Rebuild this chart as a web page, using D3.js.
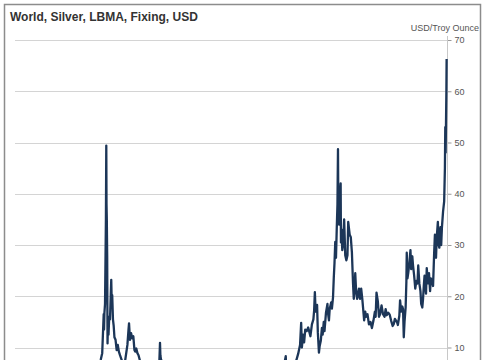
<!DOCTYPE html>
<html>
<head>
<meta charset="utf-8">
<script src="https://cdn.jsdelivr.net/npm/d3@7"></script>
<style>
  body { margin: 0; background: #fff; overflow: hidden; }
  svg { display: block; font-family: "Liberation Sans", Arial, sans-serif; }
</style>
</head>
<body>
<script>
var width = 485;
var height = 360;

var chartTitle = 'World, Silver, LBMA, Fixing, USD';
var unitLabel = 'USD/Troy Ounce';
var yTicks = [10, 20, 30, 40, 50, 60, 70];

// [decimal year, USD per troy ounce]
var fixings = [
  [1968.0, 2.17], [1968.4, 2.56], [1968.9, 1.95], [1969.5, 1.65], [1970.0, 1.85],
  [1970.6, 1.75], [1971.0, 1.64], [1971.8, 1.32], [1972.5, 1.7], [1973.0, 2.0],
  [1973.5, 2.8], [1974.1, 6.0], [1974.2, 4.5], [1974.5, 4.8], [1975.0, 4.2],
  [1975.6, 4.9], [1976.0, 4.1], [1976.6, 4.6], [1977.0, 4.5], [1977.6, 4.6],
  [1978.0, 4.9], [1978.6, 5.5], [1979.0, 6.0], [1979.3, 7.6], [1979.5, 8.9],
  [1979.7, 16.5], [1979.75, 13.5], [1979.8, 16.8], [1979.88, 18.5], [1979.95, 28],
  [1980.0, 35], [1980.05, 49.4], [1980.08, 38], [1980.12, 35], [1980.17, 28],
  [1980.22, 10.8], [1980.27, 14.5], [1980.35, 12.5], [1980.45, 16], [1980.55, 15.5],
  [1980.65, 20], [1980.72, 23.2], [1980.78, 19], [1980.85, 20.2], [1980.95, 15.5],
  [1981.05, 14.2], [1981.15, 12], [1981.3, 11.5], [1981.45, 9.5], [1981.6, 10.5],
  [1981.75, 9.2], [1981.9, 8.5], [1982.1, 7.7], [1982.3, 6.8], [1982.45, 5.3],
  [1982.6, 7.5], [1982.75, 9.0], [1982.9, 10.5], [1983.05, 13.5], [1983.12, 14.7],
  [1983.25, 11.5], [1983.4, 12.8], [1983.55, 11.8], [1983.7, 12.2], [1983.85, 9.5],
  [1983.95, 9.2], [1984.1, 9.8], [1984.25, 8.9], [1984.4, 8.5], [1984.6, 7.4],
  [1984.8, 7.2], [1985.0, 6.2], [1985.3, 6.3], [1985.6, 6.2], [1985.9, 6.0],
  [1986.2, 5.6], [1986.5, 5.0], [1986.8, 5.7], [1987.0, 5.5], [1987.2, 6.8],
  [1987.3, 10.9], [1987.35, 8.5], [1987.45, 7.5], [1987.6, 7.4], [1987.85, 6.8],
  [1988.1, 6.5], [1988.4, 6.4], [1988.8, 6.2], [1989.0, 5.8], [1989.5, 5.2],
  [1990.0, 5.2], [1990.5, 4.9], [1991.0, 4.0], [1991.5, 4.3], [1992.0, 4.0],
  [1992.5, 3.9], [1993.0, 3.7], [1993.3, 4.2], [1993.6, 5.0], [1994.0, 5.3],
  [1994.5, 5.4], [1995.0, 4.7], [1995.4, 5.8], [1996.0, 5.5], [1996.6, 5.0],
  [1997.0, 4.8], [1997.6, 4.5], [1998.05, 6.8], [1998.3, 6.0], [1998.7, 5.2],
  [1999.0, 5.0], [1999.8, 5.3], [2000.5, 5.0], [2001.0, 4.5], [2001.8, 4.2],
  [2002.4, 5.0], [2003.0, 4.5], [2003.6, 5.0], [2004.0, 6.2], [2004.27, 8.3],
  [2004.35, 5.6], [2004.6, 6.6], [2004.9, 7.3], [2005.3, 7.0], [2005.7, 7.5],
  [2005.95, 8.8], [2006.2, 10.5], [2006.35, 14.8], [2006.45, 10.0], [2006.6, 12.5],
  [2006.75, 11.0], [2006.9, 13.5], [2007.1, 13.2], [2007.3, 13.9], [2007.6, 12.2],
  [2007.8, 14.5], [2008.0, 15.5], [2008.1, 17.2], [2008.2, 20.8], [2008.3, 17],
  [2008.4, 17.8], [2008.5, 18.3], [2008.6, 13], [2008.75, 9.0], [2008.85, 10.3],
  [2009.0, 11.3], [2009.15, 13.8], [2009.25, 12.5], [2009.4, 15], [2009.5, 13.2],
  [2009.7, 16.8], [2009.9, 18.5], [2009.95, 17], [2010.1, 15.3], [2010.2, 17.5],
  [2010.4, 18.8], [2010.5, 17.6], [2010.65, 19.8], [2010.75, 23.5], [2010.85, 26.5],
  [2010.95, 30.6], [2011.05, 27.5], [2011.15, 33], [2011.25, 38], [2011.32, 48.7],
  [2011.37, 37], [2011.45, 34], [2011.5, 38], [2011.6, 40], [2011.68, 42],
  [2011.72, 30.5], [2011.8, 33], [2011.9, 29], [2012.0, 30], [2012.15, 35],
  [2012.3, 28], [2012.45, 27], [2012.6, 28], [2012.7, 34.5], [2012.9, 32],
  [2013.05, 31.5], [2013.2, 28.5], [2013.35, 22.5], [2013.45, 19.5], [2013.55, 21],
  [2013.65, 24.5], [2013.75, 21.5], [2013.9, 19.5], [2014.0, 20], [2014.15, 21.5],
  [2014.3, 19.5], [2014.45, 21.5], [2014.6, 19.5], [2014.75, 17], [2014.85, 15.3],
  [2015.0, 17], [2015.1, 16], [2015.3, 16.5], [2015.5, 14.5], [2015.7, 15],
  [2015.9, 13.8], [2016.1, 15.2], [2016.3, 17], [2016.4, 16], [2016.52, 20.7],
  [2016.7, 19], [2016.85, 16], [2017.0, 16.5], [2017.2, 18.2], [2017.4, 16.5],
  [2017.6, 16], [2017.75, 17.5], [2017.9, 16.3], [2018.1, 16.8], [2018.3, 16.4],
  [2018.5, 15.2], [2018.7, 14.2], [2018.85, 14.6], [2019.0, 15.6], [2019.3, 14.9],
  [2019.4, 14.4], [2019.6, 16.2], [2019.7, 19.2], [2019.85, 17], [2020.0, 18],
  [2020.1, 17.5], [2020.2, 12], [2020.3, 15], [2020.45, 17.8], [2020.55, 22.8],
  [2020.6, 28.5], [2020.7, 23.5], [2020.8, 24.5], [2020.95, 26.4], [2021.1, 29],
  [2021.2, 25.3], [2021.35, 27.8], [2021.45, 26], [2021.6, 24], [2021.75, 21.5],
  [2021.9, 23], [2022.05, 22.5], [2022.15, 26], [2022.3, 22.5], [2022.45, 21],
  [2022.55, 18.5], [2022.7, 17.8], [2022.8, 19.5], [2022.9, 22], [2023.0, 24],
  [2023.2, 20.5], [2023.3, 25.5], [2023.45, 22.5], [2023.6, 24.5], [2023.75, 21],
  [2023.85, 23.5], [2024.0, 23], [2024.15, 22], [2024.3, 28.5], [2024.4, 32],
  [2024.55, 27.5], [2024.65, 31.5], [2024.8, 34.5], [2024.9, 30], [2025.0, 29.5],
  [2025.15, 33.5], [2025.25, 30], [2025.35, 33.5], [2025.5, 36.5], [2025.65, 38.5],
  [2025.75, 45], [2025.8, 53], [2025.85, 48], [2025.9, 54], [2025.95, 60],
  [2025.98, 66.3]
];

var plotLeft = 15;
var axisX = 447.5;

var x = d3.scaleLinear()
  .domain([1968, 2026.1])
  .range([17, axisX]);

var y = d3.scaleLinear()
  .domain([10, 70])
  .range([347.5, 40]);

var svg = d3.select('body').append('svg')
  .attr('width', width)
  .attr('height', height);

// outer frame
svg.append('rect')
  .attr('x', 4.5)
  .attr('y', 4.5)
  .attr('width', 476)
  .attr('height', 420)
  .attr('fill', 'none')
  .attr('stroke', '#8c8c8c')
  .attr('stroke-width', 1.5);

svg.append('text')
  .attr('x', 10)
  .attr('y', 21)
  .attr('font-size', 12)
  .attr('font-weight', 'bold')
  .attr('fill', '#333')
  .text(chartTitle);

// gridlines
svg.selectAll('.grid')
  .data(yTicks)
  .enter()
    .append('line')
    .attr('class', 'grid')
    .attr('x1', plotLeft)
    .attr('x2', axisX)
    .attr('y1', function(d) { return Math.round(y(d)) + 0.5; })
    .attr('y2', function(d) { return Math.round(y(d)) + 0.5; })
    .attr('stroke', '#d4d4d4')
    .attr('stroke-width', 1);

// right axis
var axis = d3.axisRight(y)
  .tickValues(yTicks)
  .tickSize(4)
  .tickPadding(3);

var axisG = svg.append('g')
  .attr('transform', 'translate(' + axisX + ',0)')
  .call(axis);

axisG.select('.domain').remove();
axisG.append('line')
  .attr('x1', 0).attr('x2', 0)
  .attr('y1', 36).attr('y2', 420)
  .attr('stroke', '#c8c8c8');
axisG.selectAll('.tick line').attr('stroke', '#999');
axisG.selectAll('.tick text')
  .attr('fill', '#555')
  .attr('font-size', 9)
  .attr('font-family', '"Liberation Sans", Arial, sans-serif');

svg.append('text')
  .attr('x', 479)
  .attr('y', 31)
  .attr('text-anchor', 'end')
  .attr('font-size', 9)
  .attr('fill', '#555')
  .text(unitLabel);

var line = d3.line()
  .x(function(d) { return x(d[0]); })
  .y(function(d) { return y(d[1]); });

svg.append('path')
  .datum(fixings)
  .attr('d', line)
  .attr('fill', 'none')
  .attr('stroke', '#1c3658')
  .attr('stroke-width', 2.3)
  .attr('stroke-linejoin', 'round');
</script>
</body>
</html>
